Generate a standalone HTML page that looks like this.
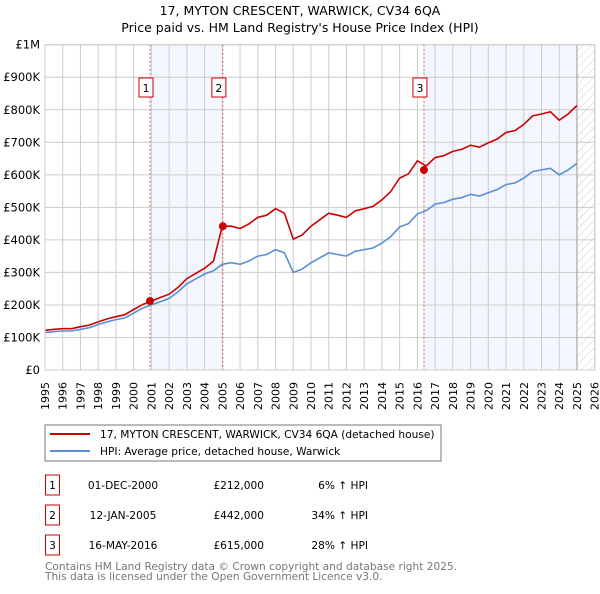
<!DOCTYPE html>
<html><head><meta charset="utf-8"><style>
body{margin:0;background:#fff;font-family:"DejaVu Sans","Liberation Sans",sans-serif;}
svg text{font-family:"DejaVu Sans","Liberation Sans",sans-serif;}
</style></head><body>
<svg id="c" width="600" height="590" xmlns="http://www.w3.org/2000/svg">
<defs><pattern id="hatch" width="6" height="6" patternUnits="userSpaceOnUse" patternTransform="rotate(45)"><line x1="0" y1="0" x2="0" y2="6" stroke="#ccc" stroke-width="1"/></pattern></defs>
<text x="300" y="15" text-anchor="middle" font-size="12.5">17, MYTON CRESCENT, WARWICK, CV34 6QA</text>
<text x="300" y="32" text-anchor="middle" font-size="12.5">Price paid vs. HM Land Registry's House Price Index (HPI)</text>
<g id="plot"></g>
<rect x="45" y="425" width="396" height="36" fill="#fff" stroke="#777"/>
<line x1="50" y1="434" x2="90" y2="434" stroke="#cc0000" stroke-width="2"/>
<text x="100" y="438" font-size="10.6">17, MYTON CRESCENT, WARWICK, CV34 6QA (detached house)</text>
<line x1="50" y1="451" x2="90" y2="451" stroke="#5b8fd4" stroke-width="2"/>
<text x="100" y="455" font-size="10.6">HPI: Average price, detached house, Warwick</text>
<g font-size="10.6" id="tbl"></g>
<text x="45" y="570" font-size="10.6" fill="#777">Contains HM Land Registry data © Crown copyright and database right 2025.</text>
<text x="45" y="580" font-size="10.6" fill="#777">This data is licensed under the Open Government Licence v3.0.</text>
</svg>
<script>
const times=[1995,1995.5,1996,1996.5,1997,1997.5,1998,1998.5,1999,1999.5,2000,2000.5,2001,2001.5,2002,2002.5,2003,2003.5,2004,2004.5,2005,2005.5,2006,2006.5,2007,2007.5,2008,2008.5,2009,2009.5,2010,2010.5,2011,2011.5,2012,2012.5,2013,2013.5,2014,2014.5,2015,2015.5,2016,2016.5,2017,2017.5,2018,2018.5,2019,2019.5,2020,2020.5,2021,2021.5,2022,2022.5,2023,2023.5,2024,2024.5,2025];
const hpiValues=[115,118,120,120,125,130,140,148,155,160,175,190,200,210,220,240,265,280,295,305,325,330,325,335,350,355,370,360,300,310,330,345,360,355,350,365,370,375,390,410,440,450,480,490,510,515,525,530,540,535,545,555,570,575,590,610,615,620,600,615,635];
const propValues=[122,125,127,127,133,138,148,157,164,170,186,201,212,223,233,254,281,297,313,335,442,442,435,449,469,476,496,482,402,415,442,462,482,476,469,489,496,503,523,549,590,603,643,627,653,659,672,678,691,685,698,710,730,736,755,781,787,794,768,787,813];
const saleTimes=[2000.92,2005.03,2016.37];
const saleValues=[212,442,615];
const saleLabels=["1","2","3"];
const saleDates=["01-DEC-2000","12-JAN-2005","16-MAY-2016"];
const salePrices=["£212,000","£442,000","£615,000"];
const saleHpi=["6% ↑ HPI","34% ↑ HPI","28% ↑ HPI"];
const yTicks=[0,100,200,300,400,500,600,700,800,900,1000];
const yTickLabels=["£0","£100K","£200K","£300K","£400K","£500K","£600K","£700K","£800K","£900K","£1M"];
const xTicks=[1995,1996,1997,1998,1999,2000,2001,2002,2003,2004,2005,2006,2007,2008,2009,2010,2011,2012,2013,2014,2015,2016,2017,2018,2019,2020,2021,2022,2023,2024,2025,2026];

const X0=45,X1=594.7,Y0=370,Y1=44.7;
const x=t=>X0+(t-1995)/(2026-1995)*(X1-X0);
const y=v=>Y0-v/1000*(Y0-Y1);
const NS="http://www.w3.org/2000/svg";
const g=document.getElementById('plot');
function mk(tag,attrs,parent){const e=document.createElementNS(NS,tag);for(const k in attrs)e.setAttribute(k,attrs[k]);(parent||g).appendChild(e);return e;}
let e;
e=mk('rect',{x:x(saleTimes[0]),y:Y1,width:x(saleTimes[1])-x(saleTimes[0]),height:Y0-Y1,fill:'#eef3fc',opacity:0.7});


e=mk('rect',{x:x(saleTimes[2]),y:Y1,width:x(2025)-x(saleTimes[2]),height:Y0-Y1,fill:'#eef3fc',opacity:0.7});


e=mk('rect',{x:x(2025),y:Y1,width:X1-x(2025),height:Y0-Y1,fill:'url(#hatch)'});


xTicks.forEach((t,i)=>{
  e=mk('line',{x1:x(t),x2:x(t),y1:Y1,y2:Y0,stroke:'#ccc','stroke-width':1});
  
  
  const tx=x(t)+4, ty=382;
  e=mk('text',{x:tx,y:ty,'text-anchor':'end','font-size':11,transform:'rotate(-90 '+tx+' '+ty+')'});
  e.textContent=t;
  
  
});
yTicks.forEach((v,i)=>{
  e=mk('line',{x1:X0,x2:X1,y1:y(v),y2:y(v),stroke:'#ccc','stroke-width':1});
  
  
  e=mk('text',{x:40,y:y(v)+4,'text-anchor':'end','font-size':11.5});
  e.textContent=yTickLabels[i];
  
  
});
e=mk('line',{x1:x(2025),x2:x(2025),y1:Y1,y2:Y0,stroke:'#999','stroke-width':1});


saleTimes.forEach((t,i)=>{
  e=mk('line',{x1:x(t),x2:x(t),y1:Y1,y2:Y0,stroke:'#e06060','stroke-width':1,'stroke-dasharray':'2,2'});
  
  
});
const pts=a=>a.map((v,i)=>x(times[i]).toFixed(1)+','+y(v).toFixed(1)).join(' ');
e=mk('polyline',{points:pts(hpiValues),fill:'none',stroke:'#5b8fd4','stroke-width':1.6});


e=mk('polyline',{points:pts(propValues),fill:'none',stroke:'#cc0000','stroke-width':1.6});


saleTimes.forEach((t,i)=>{
  e=mk('circle',{cx:x(t),cy:y(saleValues[i]),r:4,fill:'#cc0000'});
  
  
  e=mk('rect',{x:x(t)-11,y:78,width:14,height:19,fill:'#fff',stroke:'#cc0000'});
  
  
  e=mk('text',{x:x(t)-4,y:92,'text-anchor':'middle','font-size':11});
  e.textContent=saleLabels[i];
  
  
});
e=mk('rect',{x:X0,y:Y1,width:X1-X0,height:Y0-Y1,fill:'none',stroke:'#ccc'});


const tb=document.getElementById('tbl');
saleLabels.forEach((l,i)=>{
  const cy=485+i*30;
  e=mk('rect',{x:45.5,y:cy-10,width:14,height:20,fill:'#fff',stroke:'#cc0000'},tb);
  
  
  e=mk('text',{x:52.5,y:cy+4,'text-anchor':'middle'},tb);e.textContent=l;
  
  
  e=mk('text',{x:123,y:cy+4,'text-anchor':'middle'},tb);e.textContent=saleDates[i];
  
  
  e=mk('text',{x:264,y:cy+4,'text-anchor':'end'},tb);e.textContent=salePrices[i];
  
  
  e=mk('text',{x:368,y:cy+4,'text-anchor':'end'},tb);e.textContent=saleHpi[i];
  
  
});
</script>
</body></html>
